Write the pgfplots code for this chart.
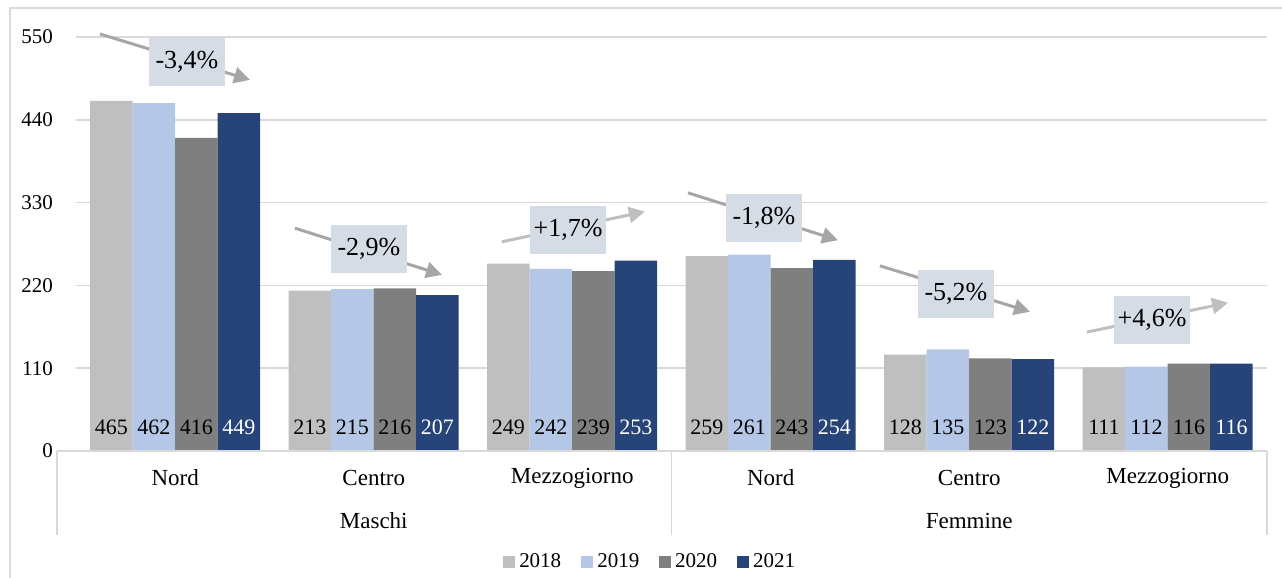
\documentclass[border=0pt]{standalone}
\usepackage{fontspec}
\setmainfont{Liberation Serif}
\usepackage{pgfplots}
\pgfplotsset{compat=1.18}
\usetikzlibrary{arrows.meta}

\definecolor{c18}{HTML}{BFBFBF}
\definecolor{c19}{HTML}{B4C7E7}
\definecolor{c20}{HTML}{7F7F7F}
\definecolor{c21}{HTML}{264478}
\definecolor{gridc}{HTML}{D9D9D9}
\definecolor{boxc}{HTML}{D6DCE5}
\definecolor{arrdown}{HTML}{A6A6A6}
\definecolor{arrup}{HTML}{BFBFBF}

\tikzset{
  pct/.style={fill=boxc, inner sep=0pt, minimum width=38pt, minimum height=24pt, font=\fontsize{13}{14}\selectfont},
  trend/.style={line width=1.5pt, -{Triangle[length=8pt,width=8pt]}},
}

\begin{document}
\begin{tikzpicture}
\useasboundingbox (-38pt,-63.5pt) rectangle (603pt,225.5pt);
% chart frame
\draw[gridc, line width=0.8pt] (-33pt,-63.5pt) -- (-33pt,221.5pt) -- (603pt,221.5pt);
\begin{axis}[
  at={(0,0)}, anchor=south west,
  scale only axis, width=595.5pt, height=207pt,
  xmin=-0.5, xmax=5.5, ymin=0, ymax=550,
  ybar=0pt, bar width=21.25pt,
  axis line style={draw=none},
  major tick length=0pt,
  ytick={0,110,...,550},
  ymajorgrids, grid style={gridc, line width=0.75pt},
  xtick={0,...,5},
  xticklabels={Nord,Centro,Mezzogiorno,Nord,Centro,Mezzogiorno},
  xticklabel style={font=\fontsize{11.5}{12}\selectfont, anchor=center, yshift=-13.5pt},
  yticklabel style={font=\fontsize{10.5}{12}\selectfont, xshift=-8pt},
  /pgf/number format/assume math mode=true,
  clip=false,
  nodes near coords,
  visualization depends on={y \as \rawy},
  every node near coord/.append style={anchor=center, yshift=12pt-\rawy*0.376364pt,
    font=\fontsize{11}{12}\selectfont, inner sep=0pt},
  legend style={at={(0.483,-0.268)}, anchor=center, draw=none, fill=none,
    legend columns=4, font=\fontsize{10.5}{12}\selectfont,
    /tikz/every even column/.append style={column sep=8pt}},
  legend image code/.code={\fill[#1] (0pt,-3pt) rectangle (6pt,3pt);},
]
\addplot[fill=c18, draw=none] coordinates {(0,465)(1,213)(2,249)(3,259)(4,128)(5,111)};
\addplot[fill=c19, draw=none] coordinates {(0,462)(1,215)(2,242)(3,261)(4,135)(5,112)};
\addplot[fill=c20, draw=none] coordinates {(0,416)(1,216)(2,239)(3,243)(4,123)(5,116)};
\addplot[fill=c21, draw=none, every node near coord/.append style={text=white}]
  coordinates {(0,449)(1,207)(2,253)(3,254)(4,122)(5,116)};
\legend{2018,2019,2020,2021}

% multi-level category axis
\draw[gridc, line width=0.75pt] ([xshift=-9.5pt]axis cs:-0.5,0) -- (axis cs:5.5,0);
\draw[gridc, line width=0.75pt] ([xshift=-9.5pt]axis cs:-0.5,0) -- ([xshift=-9.5pt,yshift=-42pt]axis cs:-0.5,0);
\draw[gridc, line width=0.75pt] (axis cs:2.5,0) -- ([yshift=-42pt]axis cs:2.5,0);
\draw[gridc, line width=0.75pt] (axis cs:5.5,0) -- ([yshift=-42pt]axis cs:5.5,0);
\node[font=\fontsize{11.5}{12}\selectfont] at ([yshift=-35pt]axis cs:1,0) {Maschi};
\node[font=\fontsize{11.5}{12}\selectfont] at ([yshift=-35pt]axis cs:4,0) {Femmine};

% trend arrows
\draw[trend, arrdown] (axis cs:-0.379,554) -- (axis cs:0.377,493);
\node[pct] at (axis cs:0.059,517) {-3,4\%};
\draw[trend, arrdown] (axis cs:0.603,296) -- (axis cs:1.344,234);
\node[pct] at (axis cs:0.976,268) {-2,9\%};
\draw[trend, arrup] (axis cs:1.646,278) -- (axis cs:2.366,318);
\node[pct] at (axis cs:1.979,294) {+1,7\%};
\draw[trend, arrdown] (axis cs:2.583,343) -- (axis cs:3.339,280);
\node[pct] at (axis cs:2.966,310) {-1,8\%};
\draw[trend, arrdown] (axis cs:3.550,246) -- (axis cs:4.306,185);
\node[pct] at (axis cs:3.933,209) {-5,2\%};
\draw[trend, arrup] (axis cs:4.593,158) -- (axis cs:5.304,197);
\node[pct] at (axis cs:4.921,174) {+4,6\%};
\end{axis}
\end{tikzpicture}
\end{document}
